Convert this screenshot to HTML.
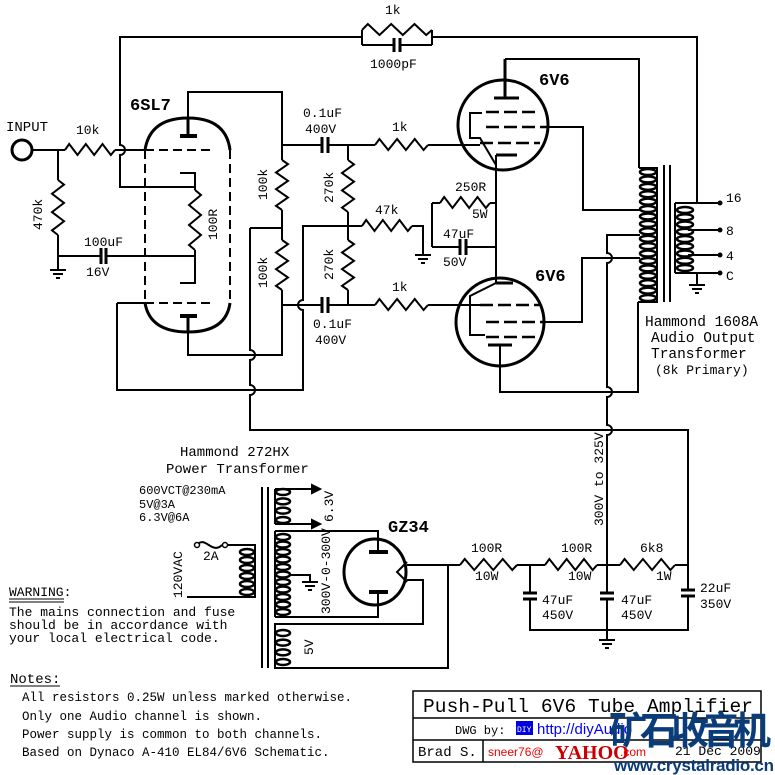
<!DOCTYPE html>
<html><head><meta charset="utf-8">
<style>
html,body{margin:0;padding:0;background:#fff;}
svg{display:block;}
.b{font-weight:bold;font-size:17px;}
</style></head>
<body>
<svg id="s" width="775" height="775" viewBox="0 0 775 775" xmlns="http://www.w3.org/2000/svg" font-family="Liberation Mono, monospace" font-size="13">
<rect width="775" height="775" fill="#fff"/>
<g id="w" fill="none" stroke="#000" stroke-width="2">
<path d="M195,187 H120 V155 a5,5 0 0 0 0,-10 V37 H362"/>
<path d="M362,30 V45 M432,30 V45 M362,45 H394 M400,45 H432 M432,37 H697 V203"/>
<path d="M394,38 V52 M400,38 V52" stroke-width="3"/>
<circle cx="22" cy="150" r="10" stroke-width="3"/>
<path d="M32,150 H65 M115,150 H145 M58,150 V180 M58,235 V270 M58,256 H100 M106,256 H195"/>
<path d="M101,248 V264 M106,248 V264" stroke-width="3"/>
<path d="M145,150 Q150,118 188,118 Q226,118 230,150 M145,303 Q150,332 188,332 Q226,332 230,303" stroke-width="3"/>
<path d="M145,150 V303 M230,150 V303 M145,150 H213 M145,303 H213" stroke-dasharray="9,5"/>
<path d="M188,118 V136 M188,316 V332" stroke-width="3"/>
<path d="M180,136 H197 M180,316 H197" stroke-width="4"/>
<path d="M188,118 V92 H282 V160 M180,173 H195 V190 M195,250 V283 H180"/>
<path d="M188,332 V355 H282 V290 M117,303 H145 M117,303 V390 H303 V310 a5,5 0 0 1 0,-10 V226 H362"/>
<path d="M250,228 V350 a5,5 0 0 1 0,10 V385 a5,5 0 0 1 0,10 V430 H688 V590 M688,596 V630 H530 V599 M530,593 V565"/>
<path d="M250,228 H282 V240 M282,210 V228 M282,145 H322 M328,145 H375 M428,145 H480 M282,305 H322 M328,305 H375 M428,305 H480"/>
<path d="M322,137 V153 M328,137 V153 M322,297 V313 M328,297 V313" stroke-width="3"/>
<path d="M348,145 V160 M348,212 V240 M348,290 V305"/>
<path d="M412,226 H423 V255 M432,203 V247 M432,203 H440 M490,203 H496 M432,247 H460 M466,247 H496"/>
<path d="M460,239 V255 M466,239 V255" stroke-width="3"/>
<circle cx="503" cy="125" r="45" stroke-width="3"/>
<path d="M505,59 V98" stroke-width="3"/>
<path d="M494,98 H519 M496,155 H517" stroke-width="3"/>
<path d="M505,59 H639 V168 M548,127 H583 V210 H640 M482,113 H470 V138 H480 L496,165 M496,155 V283"/>
<path d="M486,112 H540 M486,127 H548 M480,143 H540" stroke-width="2.5" stroke-dasharray="13,5"/>
<circle cx="500" cy="322" r="44" stroke-width="3"/>
<path d="M496,283 H513 M488,345 H512" stroke-width="3"/>
<path d="M500,345 V392 H638 V302 M544,322 H582 V258 H640 M496,283 L470,296 V335 H485"/>
<path d="M480,305 H540 M486,322 H544 M486,337 H540" stroke-width="2.5" stroke-dasharray="13,5"/>
<path d="M640,235 H607 V253 a5,5 0 0 1 0,10 V387 a5,5 0 0 1 0,10 V425 a5,5 0 0 1 0,10 V593 M607,599 V640"/>
<path d="M600,593 H614 M600,599 H614 M523,593 H537 M523,599 H537 M681,590 H695 M681,596 H695" stroke-width="3"/>
<path d="M664,165 V302 M670,165 V302"/>
<path d="M675,203 H720 M688,230 H720 M688,255 H720 M675,273 H720 M697,273 V285 M675,203 V273"/>
<path d="M262,487 V668 M268,487 V668"/>
<path d="M275,489 H312 M275,524 H312 M275,489 V524"/>
<path d="M312,485 L320,489 L312,493 Z M312,520 L320,524 L312,528 Z" fill="#000"/>
<path d="M275,531 H378 V552 M275,617 H378 V592 M290,575 H310 V582 M275,531 V617"/>
<path d="M369,552 H388 M369,592 H388" stroke-width="4"/>
<ellipse cx="375" cy="572" rx="31" ry="33" stroke-width="3"/>
<path d="M407,562 L397,572 L407,582 M407,565 H460 M407,580 H423 V624 H275 V668 H448 V565"/>
<path d="M517,565 H545 M597,565 H620 M675,565 H688"/>
<path d="M197,545 C205,535 212,555 222,545 M225,545 H255 V597 H187"/>
</g>
<g fill="#fff" stroke="#000" stroke-width="1.5">
<circle cx="197" cy="545" r="2.5"/><circle cx="225" cy="545" r="2.5"/>
</g>
<g fill="#000">
<circle cx="720" cy="203" r="2.5"/><circle cx="720" cy="230" r="2.5"/><circle cx="720" cy="255" r="2.5"/><circle cx="720" cy="273" r="2.5"/>
</g>
<g id="gen" fill="none" stroke="#000" stroke-width="2"></g>

<text x="6" y="131" font-size="14">INPUT</text>
<text x="76" y="134">10k</text>
<text x="42" y="230" transform="rotate(-90 42 230)">470k</text>
<text x="84" y="246">100uF</text>
<text x="86" y="276">16V</text>
<text class="b" x="130" y="110">6SL7</text>
<text x="217" y="240" transform="rotate(-90 217 240)">100R</text>
<text x="267" y="200" transform="rotate(-90 267 200)">100k</text>
<text x="267" y="288" transform="rotate(-90 267 288)">100k</text>
<text x="333" y="203" transform="rotate(-90 333 203)">270k</text>
<text x="333" y="280" transform="rotate(-90 333 280)">270k</text>
<text x="303" y="117">0.1uF</text>
<text x="305" y="133">400V</text>
<text x="313" y="328">0.1uF</text>
<text x="315" y="344">400V</text>
<text x="385" y="14">1k</text>
<text x="370" y="68">1000pF</text>
<text x="392" y="131">1k</text>
<text x="392" y="291">1k</text>
<text x="375" y="214">47k</text>
<text x="455" y="191">250R</text>
<text x="472" y="218">5W</text>
<text x="443" y="238">47uF</text>
<text x="443" y="266">50V</text>
<text class="b" x="539" y="85">6V6</text>
<text class="b" x="535" y="281">6V6</text>
<text x="726" y="202">16</text>
<text x="726" y="235">8</text>
<text x="726" y="260">4</text>
<text x="726" y="280">C</text>
<text x="645" y="326" font-size="14.5">Hammond 1608A</text>
<text x="651" y="342" font-size="14.5">Audio Output</text>
<text x="651" y="358" font-size="14.5">Transformer</text>
<text x="655" y="374" font-size="13">(8k Primary)</text>
<text x="180" y="456" font-size="14">Hammond 272HX</text>
<text x="166" y="473" font-size="14">Power Transformer</text>
<text x="139" y="494" font-size="12">600VCT@230mA</text>
<text x="139" y="508" font-size="12">5V@3A</text>
<text x="139" y="521" font-size="12">6.3V@6A</text>
<text x="333" y="522" transform="rotate(-90 333 522)">6.3V</text>
<text x="330" y="614" transform="rotate(-90 330 614)">300V-0-300V</text>
<text x="313" y="655" transform="rotate(-90 313 655)">5V</text>
<text x="182" y="598" transform="rotate(-90 182 598)">120VAC</text>
<text x="203" y="560">2A</text>
<text class="b" x="388" y="532">GZ34</text>
<text x="603" y="526" transform="rotate(-90 603 526)">300V to 325V</text>
<text x="471" y="552">100R</text>
<text x="475" y="580">10W</text>
<text x="561" y="552">100R</text>
<text x="568" y="580">10W</text>
<text x="640" y="552">6k8</text>
<text x="656" y="580">1W</text>
<text x="542" y="604">47uF</text>
<text x="542" y="619">450V</text>
<text x="621" y="604">47uF</text>
<text x="621" y="619">450V</text>
<text x="700" y="592">22uF</text>
<text x="700" y="608">350V</text>
<text x="9" y="596">WARNING:</text>
<path d="M9,599 H64 M9,602 H64" stroke="#000" stroke-width="1"/>
<text x="9" y="616">The mains connection and fuse</text>
<text x="9" y="629">should be in accordance with</text>
<text x="9" y="642">your local electrical code.</text>
<text x="10" y="683" font-size="14">Notes:</text>
<path d="M10,686 H60" stroke="#000" stroke-width="1"/>
<text x="22" y="701" font-size="12.5">All resistors 0.25W unless marked otherwise.</text>
<text x="22" y="720" font-size="12.5">Only one Audio channel is shown.</text>
<text x="22" y="738" font-size="12.5">Power supply is common to both channels.</text>
<text x="22" y="756" font-size="12.5">Based on Dynaco A-410 EL84/6V6 Schematic.</text>
<g fill="none" stroke="#000" stroke-width="1.5">
<rect x="413" y="691" width="348" height="71"/>
<path d="M413,718 H761 M413,740 H761 M483,740 V762"/>
</g>
<text x="423" y="712" font-size="19.5" textLength="330">Push-Pull 6V6 Tube Amplifier</text>
<text x="455" y="734" font-size="12">DWG by:</text>
<rect x="516" y="721" width="17" height="14" fill="#0000e0"/>
<text x="517" y="732" font-size="8" fill="#fff">DIY</text>
<text x="537" y="734" font-size="15" fill="#0000ff" font-family="Liberation Sans, sans-serif">http://diyAudio</text>
<text x="488" y="756" font-size="12" fill="#e00" font-family="Liberation Sans, sans-serif">sneer76@</text>
<text x="555" y="759" font-size="20" fill="#c00" font-weight="bold" font-family="Liberation Serif, serif">YAHOO</text>
<text x="620" y="756" font-size="12" fill="#e00" font-family="Liberation Sans, sans-serif">.com</text>
<text x="418" y="756" font-size="14">Brad S.</text>
<text x="675" y="755" font-size="13">21 Dec 2009</text>
<text x="609" y="744" font-family="Noto Sans CJK SC, sans-serif" font-size="38" font-weight="bold" fill="#0a3c7a" textLength="162">矿石收音机</text>
<text x="614" y="771" font-family="Liberation Sans, sans-serif" font-size="17" font-weight="bold" fill="#0a3c7a" textLength="160">www.crystalradio.cn</text>
</svg>
<script>
var g=document.getElementById('gen'),NS='http://www.w3.org/2000/svg';
function P(d,sw){var p=document.createElementNS(NS,'path');p.setAttribute('d',d);if(sw)p.setAttribute('stroke-width',sw);g.appendChild(p);}
function RH(x1,x2,y){var n=6,d='M'+x1+','+y,s=(x2-x1)/n;for(var i=0;i<n;i++){d+=' L'+(x1+s*i+s/2)+','+(y+(i%2?5:-6));}d+=' L'+x2+','+y;P(d);}
function RV(x,y1,y2){var n=6,d='M'+x+','+y1,s=(y2-y1)/n;for(var i=0;i<n;i++){d+=' L'+(x+(i%2?-6:6))+','+(y1+s*i+s/2);}d+=' L'+x+','+y2;P(d);}
function E(cx,cy,rx,ry){var e=document.createElementNS(NS,'ellipse');e.setAttribute('cx',cx);e.setAttribute('cy',cy);e.setAttribute('rx',rx);e.setAttribute('ry',ry);e.setAttribute('stroke-width','2.5');g.appendChild(e);}
function C(cx,y1,y2,n,rx){var s=(y2-y1)/(n-1);for(var i=0;i<n;i++)E(cx,y1+s*i,rx,3);}
RH(65,115,150);RH(362,432,30);RV(58,180,235);RV(195,190,250);
RV(282,160,210);RV(282,240,290);RV(348,160,212);RV(348,240,290);
RH(375,428,145);RH(375,428,305);RH(362,412,226);RH(440,490,203);
RH(460,517,565);RH(545,597,565);RH(620,675,565);
C(648,172,298,18,8);P('M639,168 H657 V302 H638');
C(685,210,268,9,8);
C(283,492,520,4,7);C(283,537,612,11,7);C(283,633,662,4,7);C(247,552,592,6,7);
function G(x,y){P('M'+(x-8)+','+y+' H'+(x+8)+' M'+(x-5)+','+(y+4)+' H'+(x+5)+' M'+(x-2)+','+(y+8)+' H'+(x+2));}
G(58,270);G(423,255);G(697,285);G(310,582);G(607,640);
</script>
</body></html>
